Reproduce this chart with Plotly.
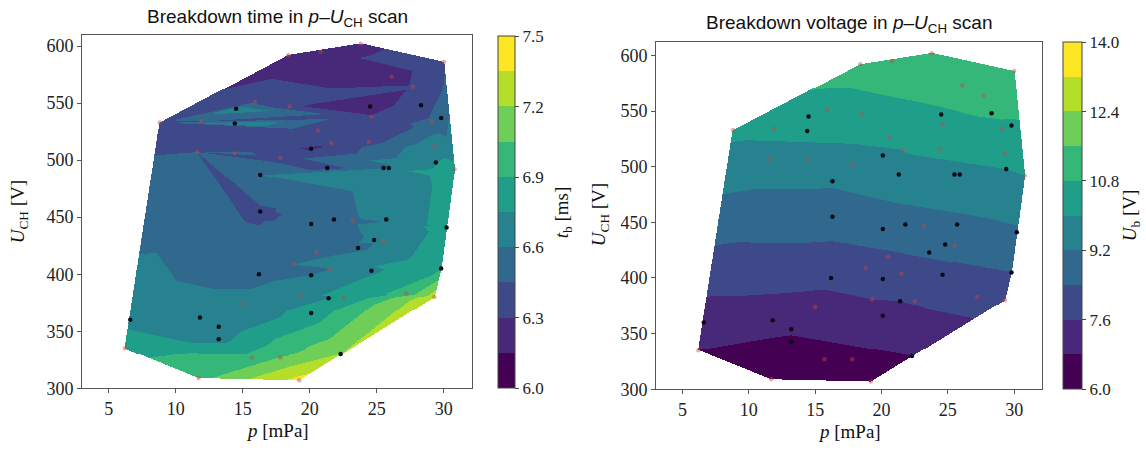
import numpy as np
import plotly.graph_objects as go

# ---------------- data ----------------
# black markers
p_black = [14.5, 14.4, 16.3, 16.3, 16.2, 11.8, 13.2, 13.2, 24.5, 28.3, 29.8, 20.1, 21.3, 25.5, 25.9,
           29.4, 20.1, 21.8, 25.7, 23.6, 24.8, 30.2, 20.1, 24.6, 29.8, 21.4, 20.1, 6.6, 22.3]
u_black = [545, 532, 487, 455, 400, 362, 354, 343, 547, 548, 537, 510, 493, 493, 493,
           498, 444, 448, 448, 423, 430, 441, 399, 403, 405, 379, 366, 360, 330]
tb_black = [6.70, 6.75, 6.60, 6.42, 6.55, 6.60, 6.65, 6.70, 6.20, 6.42, 6.48, 6.28, 6.40, 6.58, 6.65,
            6.75, 6.50, 6.52, 6.65, 6.57, 6.62, 6.80, 6.60, 6.72, 6.88, 6.75, 6.80, 6.70, 7.20]
ub_black = [10.3, 10.0, 9.3, 8.8, 7.8, 7.1, 6.9, 6.7, 10.7, 10.9, 10.7, 9.9, 9.6, 9.8, 9.8,
            10.0, 8.7, 8.85, 9.0, 8.5, 8.65, 9.1, 7.9, 8.2, 8.4, 7.6, 7.35, 7.2, 6.8]

# red markers
p_red = [8.8, 6.2, 11.7, 19.2, 29.3, 30.8, 30.0, 23.8, 18.4, 20.8, 11.9, 15.9, 18.5, 11.6, 14.4,
         17.8, 26.1, 27.7, 29.1, 24.6, 21.6, 24.4, 29.3, 21.5, 19.3, 15.7, 17.8, 15.0, 18.8, 20.5,
         27.2, 23.2, 20.6, 22.5, 25.5]
u_red = [533, 335, 309, 307, 380, 492, 586, 602, 592, 595, 534, 551, 547, 507, 506,
         502, 573, 564, 534, 538, 515, 516, 512, 404, 381, 327, 327, 374, 409, 419,
         383, 447, 526, 379, 429]
tb_red = [6.40, 6.85, 7.00, 7.40, 7.30, 6.80, 6.42, 6.25, 6.20, 6.22, 6.45, 6.40, 6.32, 6.45, 6.50,
          6.40, 6.22, 6.32, 6.48, 6.32, 6.32, 6.38, 6.70, 6.60, 6.70, 6.95, 7.05, 6.65, 6.60, 6.55,
          6.95, 6.52, 6.32, 6.75, 6.62]
ub_red = [10.2, 6.8, 6.2, 6.3, 8.0, 10.0, 11.5, 11.55, 11.2, 11.4, 10.1, 10.4, 10.45, 9.65, 9.6,
          9.65, 11.2, 11.1, 10.65, 10.55, 10.0, 10.15, 10.3, 8.05, 7.6, 6.5, 6.55, 7.3, 8.05, 8.3,
          7.95, 8.9, 10.15, 7.65, 8.65]

tb_range = [6.0, 7.5]
ub_range = [6.0, 14.0]
tb_ticks = [6.0, 6.3, 6.6, 6.9, 7.2, 7.5]
ub_ticks = [6.0, 7.6, 9.2, 10.8, 12.4, 14.0]
x_ticks = [5, 10, 15, 20, 25, 30]
y_ticks = [300, 350, 400, 450, 500, 550, 600]

VIRIDIS10 = ['#440154', '#482878', '#3e4989', '#31688e', '#26828e',
             '#1f9e89', '#35b779', '#6ece58', '#b5de2b', '#fde725']


# ---------------- triangulation + linear interpolation ----------------
def delaunay(xs, ys):
    pts = [(float(a), float(b)) for a, b in zip(xs, ys)]
    n = len(pts)
    minx, maxx, miny, maxy = min(xs), max(xs), min(ys), max(ys)
    d = max(maxx - minx, maxy - miny) * 400.0
    cx, cy = (minx + maxx) / 2.0, (miny + maxy) / 2.0
    pts += [(cx - d, cy - d), (cx + d, cy - d), (cx, cy + d)]

    def circum(t):
        (ax, ay), (bx, by), (qx, qy) = pts[t[0]], pts[t[1]], pts[t[2]]
        D = 2.0 * (ax * (by - qy) + bx * (qy - ay) + qx * (ay - by))
        if abs(D) < 1e-12:
            return (0.0, 0.0, 1e300)
        a2, b2, q2 = ax * ax + ay * ay, bx * bx + by * by, qx * qx + qy * qy
        ux = (a2 * (by - qy) + b2 * (qy - ay) + q2 * (ay - by)) / D
        uy = (a2 * (qx - bx) + b2 * (ax - qx) + q2 * (bx - ax)) / D
        return (ux, uy, (ax - ux) ** 2 + (ay - uy) ** 2)

    tris = {(n, n + 1, n + 2): circum((n, n + 1, n + 2))}
    for i in range(n):
        px, py = pts[i]
        bad = [t for t, (ux, uy, r2) in tris.items() if (px - ux) ** 2 + (py - uy) ** 2 < r2]
        edges = {}
        for t in bad:
            for e in ((t[0], t[1]), (t[1], t[2]), (t[2], t[0])):
                k = (min(e), max(e))
                edges[k] = edges.get(k, 0) + 1
            del tris[t]
        for (a, b), c in edges.items():
            if c == 1:
                t = (a, b, i)
                tris[t] = circum(t)
    return [t for t in tris if max(t) < n]


def tri_interp(x, y, z, tris, gx, gy):
    X, Y = np.meshgrid(gx, gy)
    Z = np.full(X.shape, np.nan)
    for a, b, c in tris:
        x1, y1, x2, y2, x3, y3 = x[a], y[a], x[b], y[b], x[c], y[c]
        det = (y2 - y3) * (x1 - x3) + (x3 - x2) * (y1 - y3)
        if abs(det) < 1e-12:
            continue
        l1 = ((y2 - y3) * (X - x3) + (x3 - x2) * (Y - y3)) / det
        l2 = ((y3 - y1) * (X - x3) + (x1 - x3) * (Y - y3)) / det
        l3 = 1.0 - l1 - l2
        m = (l1 >= -1e-9) & (l2 >= -1e-9) & (l3 >= -1e-9)
        Z[m] = l1[m] * z[a] + l2[m] * z[b] + l3[m] * z[c]
    return Z


def to_list(Z):
    return [[None if np.isnan(v) else float(v) for v in row] for row in Z]


def stepped_scale(colors):
    n = len(colors)
    sc = []
    for i, c in enumerate(colors):
        sc.append([i / n, c])
        sc.append([(i + 1) / n, c])
    return sc


P = np.array(p_black + p_red, dtype=float)
U = np.array(u_black + u_red, dtype=float)
TB = np.array(tb_black + tb_red, dtype=float)
UB = np.array(ub_black + ub_red, dtype=float)
tris = delaunay(P, U)

W, H = 1146, 456
xr = [3.0, 32.1]
yr_l = [300, 609.5]
yr_r = [300, 612]
gx_l = np.linspace(xr[0], xr[1], 392)
gy_l = np.linspace(yr_l[0], yr_l[1], 362)
gx_r = np.linspace(xr[0], xr[1], 388)
gy_r = np.linspace(yr_r[0], yr_r[1], 356)
Z_tb = tri_interp(P, U, TB, tris, gx_l, gy_l)
Z_ub = tri_interp(P, U, UB, tris, gx_r, gy_r)

tickfont = dict(family="Liberation Serif", size=18, color="#222")
cbfont = dict(family="Liberation Serif", size=17, color="#222")
cs = stepped_scale(VIRIDIS10)


def cbar(x0, y0, y1, thick, ticks):
    return dict(x=x0 / W, xanchor="left", xpad=0, ypad=0,
                y=1 - (y0 + y1) / 2 / H, yanchor="middle",
                len=(y1 - y0) / H, lenmode="fraction",
                thickness=thick, thicknessmode="pixels",
                tickvals=ticks, ticktext=["%.1f" % t for t in ticks],
                ticks="outside", ticklen=4, tickcolor="#444",
                outlinewidth=1, outlinecolor="#444", tickfont=cbfont)


fig = go.Figure()
fig.add_trace(go.Heatmap(x=gx_l, y=gy_l, z=to_list(Z_tb), zmin=tb_range[0], zmax=tb_range[1],
                         colorscale=cs, zsmooth=False, hoverongaps=False,
                         colorbar=cbar(498, 37, 397, 17, tb_ticks), xaxis="x", yaxis="y"))
fig.add_trace(go.Heatmap(x=gx_r, y=gy_r, z=to_list(Z_ub), zmin=ub_range[0], zmax=ub_range[1],
                         colorscale=cs, zsmooth=False, hoverongaps=False,
                         colorbar=cbar(1063, 43, 398, 19, ub_ticks), xaxis="x2", yaxis="y2"))

for xa, ya in (("x", "y"), ("x2", "y2")):
    fig.add_trace(go.Scatter(x=p_red, y=u_red, mode="markers", showlegend=False,
                             marker=dict(size=4.5, color="rgba(200,70,60,0.45)"), xaxis=xa, yaxis=ya))
    fig.add_trace(go.Scatter(x=p_black, y=u_black, mode="markers", showlegend=False,
                             marker=dict(size=4.5, color="#0b0b14"), xaxis=xa, yaxis=ya))

ax_common = dict(showgrid=False, zeroline=False, showline=True, mirror=True,
                 linecolor="#555", linewidth=1, ticks="outside", ticklen=4,
                 tickcolor="#555", tickfont=tickfont)

fig.update_layout(
    width=W, height=H, margin=dict(l=0, r=0, t=0, b=0),
    paper_bgcolor="white", plot_bgcolor="white", showlegend=False,
    xaxis=dict(domain=[82 / W, 472 / W], range=xr, tickvals=x_ticks, anchor="y", **ax_common),
    yaxis=dict(domain=[1 - 397 / H, 1 - 36 / H], range=yr_l, tickvals=y_ticks, anchor="x", **ax_common),
    xaxis2=dict(domain=[656 / W, 1042 / W], range=xr, tickvals=x_ticks, anchor="y2", **ax_common),
    yaxis2=dict(domain=[1 - 398 / H, 1 - 43 / H], range=yr_r, tickvals=y_ticks, anchor="x2", **ax_common),
)

titlefont = dict(family="Liberation Sans", size=19, color="#111")
labfont = dict(family="Liberation Serif", size=19, color="#111")
ann = [
    dict(x=277, y=18, text="Breakdown time in <i>p</i>–<i>U</i><sub>CH</sub> scan", font=titlefont),
    dict(x=849, y=25, text="Breakdown voltage in <i>p</i>–<i>U</i><sub>CH</sub> scan", font=titlefont),
    dict(x=277, y=440, text="<i>p</i> [mPa]", font=labfont),
    dict(x=849, y=441, text="<i>p</i> [mPa]", font=labfont),
    dict(x=19, y=217, text="<i>U</i><sub>CH</sub> [V]", font=labfont, textangle=-90),
    dict(x=600, y=220, text="<i>U</i><sub>CH</sub> [V]", font=labfont, textangle=-90),
    dict(x=563, y=217, text="<i>t</i><sub>b</sub> [ms]", font=labfont, textangle=-90),
    dict(x=1131, y=220, text="<i>U</i><sub>b</sub> [V]", font=labfont, textangle=-90),
]
fig.update_layout(annotations=[dict(xref="paper", yref="paper", x=a["x"] / W, y=1 - a["y"] / H,
                                    text=a["text"], font=a["font"], showarrow=False,
                                    xanchor="center", yanchor="middle",
                                    textangle=a.get("textangle", 0)) for a in ann])

fig.write_html("out.html")
